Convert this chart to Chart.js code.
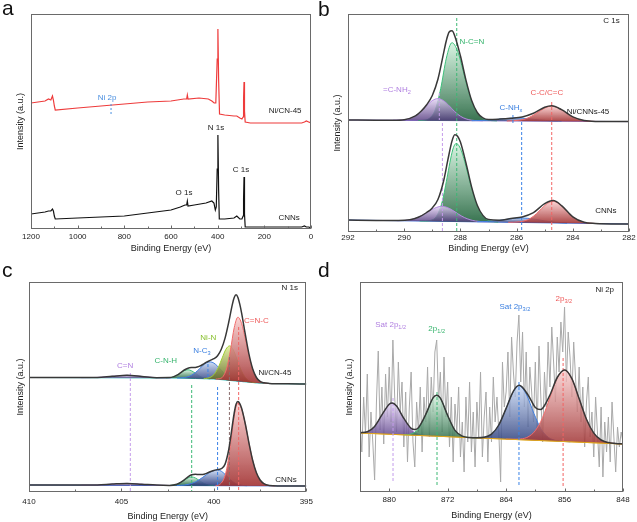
<!DOCTYPE html>
<html><head><meta charset="utf-8">
<script src="https://cdn.jsdelivr.net/npm/chart.js@4.4.1/dist/chart.umd.min.js"></script>
<style>
html,body{margin:0;padding:0;background:#fff;}
#wrap{position:relative;width:637px;height:522px;overflow:hidden;}
canvas{position:absolute;}
</style></head>
<body><div id="wrap">
<canvas id="ca" width="318" height="260" style="left:0;top:0"></canvas>
<canvas id="cb" width="319" height="260" style="left:318px;top:0"></canvas>
<canvas id="cc" width="318" height="262" style="left:0;top:260px"></canvas>
<canvas id="cd" width="319" height="262" style="left:318px;top:260px"></canvas>
</div>
<script>
// ---------- Panel a : survey ----------
const aTicks = [1200, 1000, 800, 600, 400, 200, 0];
const aMinor = [1100, 900, 700, 500, 300, 100];
const aRedE = [1200,1170,1140,1125,1115,1108,1104,1100,1096,1000,900,800,700,600,545,533,530,527,480,440,425,415,408,402,399,396,392,370,330,318,305,296,291,289,287,285,282,260,150,40,28,20,10,0];
const aRedI = [126,127,128,130,129,133,129,123,119,121,123,125,127,128,130,130,134,130,131,130,128,126,126,170,200,150,115,114,113,113,111,110,112,130,147,118,107,106,106,106,107,108,107,106];
const aBlkE = [1200,1170,1140,1125,1115,1108,1104,1100,1096,1000,900,800,700,600,560,540,533,530,527,500,450,425,416,410,406,402,399,396,393,370,330,318,305,296,291,289,287,285,282,260,150,40,28,20,10,0];
const aBlkI = [15,16,17,18,18,20,18,13,10,11,12,13,16,19,22,24,24,28,23,24,26,28,26,19,22,60,94,40,10,10,11,13,10,10,13,30,52,15,2,2,2,2,3,2,2,1];
const aMarks = [{x: 857, y1: 125, y2: 113}];

// ---------- Panel b : C 1s ----------
const bTicks = [292, 290, 288, 286, 284, 282];
const bMinor = [291, 289, 287, 285, 283];
const bUpBaseE = [292, 282], bUpBaseI = [112.0, 110.4];
const bUpPurE = [290.4,290.2,290.0,289.8,289.6,289.4,289.2,289.0,288.8,288.6,288.4,288.2,288.0,287.8,287.6,287.4,287.2];
const bUpPurI = [111.8,111.9,112.3,113.5,116.1,120.6,126.3,131.4,133.4,131.3,126.2,120.3,115.8,113.1,111.8,111.4,111.1];
const bUpGrnE = [289.5,289.3,289.1,288.9,288.7,288.5,288.3,288.1,287.9,287.7,287.5,287.3,287.1,286.9,286.7];
const bUpGrnI = [111.5,111.8,113.7,121.9,143.5,173.9,189.3,180.9,160.9,139.3,123.9,115.8,112.4,111.4,111.1];
const bUpNhxE = [287.6,287.2,286.8,286.4,286.0,285.6,285.2,284.8,284.4];
const bUpNhxI = [111.3,111.6,112.3,113.4,114.0,113.3,112.1,111.2,110.8];
const bUpRedE = [286.35,286.15,285.95,285.75,285.55,285.35,285.15,284.95,284.75,284.55,284.35,284.15,283.95,283.75,283.55,283.35,283.15];
const bUpRedI = [111.0,111.2,111.7,112.6,114.6,117.8,121.4,124.6,125.8,124.5,121.3,117.6,114.3,112.3,111.3,110.7,110.5];
const bUpEnvE = [292,291,290.4,290.0,289.6,289.4,289.2,289.0,288.8,288.6,288.5,288.4,288.3,288.2,288.0,287.8,287.6,287.4,287.2,287.0,286.6,286.2,285.8,285.4,285.0,284.75,284.4,284.0,283.6,283.2,282];
const bUpEnvI = [112.0,111.8,111.8,112.3,116.1,120.7,127.2,136.5,152.8,178.6,191.5,200.0,201.2,196.1,176.2,151.6,131.4,119.5,114.1,112.4,112.9,113.8,115.1,118.7,124.7,126.2,122.3,115.1,111.5,110.6,110.4];
const bLoBaseE = [292, 282], bLoBaseI = [12, 8];
const bLoPurE = [290.26,290.06,289.86,289.66,289.46,289.26,289.06,288.86,288.66,288.46,288.26,288.06,287.86,287.66,287.46,287.26,287.06];
const bLoPurI = [11.3,11.5,11.9,13.1,15.2,18.2,21.7,24.5,25.7,24.4,21.4,17.7,14.5,12.3,11.0,10.4,10.1];
const bLoGrnE = [289.45,289.25,289.05,288.85,288.65,288.45,288.35,288.25,288.15,288.05,287.95,287.85,287.65,287.45,287.25,287.05,286.85,286.65];
const bLoGrnI = [11.0,11.0,11.7,15.8,30.1,57.9,72.9,84.3,88.5,86.2,80.0,70.7,48.8,29.7,18.0,12.5,10.6,10.0];
const bLoNhxE = [287.4,287.0,286.6,286.2,285.8,285.4,285.0,284.6,284.2];
const bLoNhxI = [10.3,10.6,11.7,13.3,14.0,13.0,11.1,9.6,9.0];
const bLoRedE = [286.3,286.1,285.9,285.7,285.5,285.3,285.1,284.9,284.7,284.5,284.3,284.1,283.9,283.7,283.5,283.3,283.1];
const bLoRedI = [9.7,9.8,10.2,11.3,13.8,18.1,23.7,28.7,30.6,28.5,23.4,17.6,13.2,10.5,9.2,8.7,8.4];
const bLoEnvE = [292,291,290.2,289.8,289.5,289.2,289.0,288.8,288.6,288.45,288.3,288.2,288.1,288.0,287.8,287.6,287.4,287.2,287.0,286.6,286.2,285.8,285.4,285.0,284.7,284.4,284.0,283.6,283.2,282];
const bLoEnvI = [12.0,11.6,11.4,12.2,14.7,19.5,24.1,32.5,50.8,71.6,90.9,97.2,95.8,89.9,68.8,44.9,26.8,16.6,12.4,11.8,13.5,15.1,19.4,28.3,31.4,26.4,15.2,9.7,8.6,8.0];
const bMarks = [
  {x: 288.75, y1: 139, y2: 112, k: 'p'}, {x: 288.64, y1: 109, y2: 0, k: 'p'},
  {x: 288.13, y1: 214, y2: 0, k: 'g'}, {x: 286.13, y1: 117, y2: 107, k: 'b'},
  {x: 285.82, y1: 110, y2: 0, k: 'b'}, {x: 284.75, y1: 130, y2: 0, k: 'r'}];

// ---------- Panel c : N 1s ----------
const cTicks = [410, 405, 400, 395];
const cMinor = [407.5, 402.5, 397.5];
const cUpBaseE = [410,402,401,400,399.5,399,398.5,398,397.5,397,395];
const cUpBaseI = [114.5,114,113.5,113,112.2,111.3,110.5,109.6,108.8,108.5,108];
const cUpCnE = [407.2,406.3,405.5,404.7,403.9,403.1,402.3];
const cUpCnI = [114.3,114.6,115.7,116.7,115.6,114.3,114.0];
const cUpCnhE = [402.6,402.4,402.2,402.0,401.8,401.6,401.4,401.2,401.0,400.8,400.6,400.4,400.2];
const cUpCnhI = [114.1,114.4,115.1,116.8,119.1,121.3,122.2,121.1,118.7,116.2,114.4,113.6,113.1];
const cUpNc3E = [402.0,401.8,401.6,401.4,401.2,401.0,400.8,400.6,400.4,400.2,400.0,399.8,399.6,399.4,399.2,399.0,398.8,398.6,398.4];
const cUpNc3I = [114.0,114.1,114.5,115.3,116.9,119.4,122.8,126.4,129.1,130.1,128.9,125.8,121.8,117.9,114.9,112.9,111.7,110.8,110.3];
const cUpNinE = [400.55,400.35,400.15,399.95,399.75,399.55,399.35,399.15,398.95,398.75,398.55,398.35,398.15,397.95,397.75];
const cUpNinI = [113.3,113.8,115.1,118.5,125.0,134.1,142.7,146.1,142.0,132.8,122.9,115.8,111.8,110.1,109.2];
const cUpRedE = [399.9,399.7,399.5,399.3,399.1,398.9,398.7,398.5,398.3,398.1,397.9,397.7,397.5,397.3,397.1];
const cUpRedI = [112.9,113.3,115.6,124.1,142.2,164.4,174.8,168.5,153.2,136.1,122.6,114.5,110.6,109.2,108.6];
const cUpEnvE = [410,407,406.3,405.5,404.7,403.9,403.1,402.4,402.2,402.0,401.8,401.6,401.4,401.2,401.0,400.8,400.6,400.4,400.2,400.0,399.8,399.6,399.4,399.2,399.0,398.9,398.8,398.7,398.6,398.5,398.3,398.1,397.9,397.7,397.5,397.3,397.0,396.0,395.0];
const cUpEnvI = [114.5,114.4,114.6,115.7,116.7,115.6,114.3,114.4,115.1,116.8,119.3,122.0,123.8,124.4,124.6,125.6,127.5,129.9,131.6,133.3,136.2,142.7,153.6,169.5,187.7,194.4,197.2,194.6,187.8,178.9,157.6,137.6,123.0,114.5,110.6,109.2,108.6,108.2,108.0];
const cLoBaseE = [410, 395], cLoBaseI = [7, 6];
const cLoCnE = [407.2,406.3,405.5,404.7,403.9,403.1,402.3];
const cLoCnI = [6.8,7.0,7.9,8.6,7.8,6.8,6.5];
const cLoCnhE = [402.4,402.2,402.0,401.8,401.6,401.4,401.2,401.0,400.8,400.6,400.4,400.2,400.0];
const cLoCnhI = [6.5,6.9,7.7,9.3,11.7,14.1,15.0,14.0,11.6,9.2,7.6,6.8,6.4];
const cLoNc3E = [402.0,401.8,401.6,401.4,401.2,401.0,400.8,400.6,400.4,400.2,400.0,399.8,399.6,399.4,399.2,399.0,398.8,398.6,398.4,398.2];
const cLoNc3I = [6.5,6.7,7.0,7.6,8.6,10.1,12.2,14.7,17.4,19.8,21.4,22.0,20.8,17.7,13.9,10.7,8.3,7.1,6.5,6.3];
const cLoRedE = [399.9,399.7,399.5,399.4,399.3,399.2,399.1,399.0,398.9,398.8,398.7,398.5,398.3,398.1,397.9,397.7,397.5,397.3,397.1,396.9,396.7];
const cLoRedI = [6.5,7.4,11.5,16.2,23.7,34.4,47.7,62.4,75.9,85.6,89.0,83.1,67.8,48.7,31.5,19.2,12.0,8.4,6.8,6.3,6.1];
const cLoEnvE = [410,407,406.3,405.5,404.7,403.9,403.1,402.4,402.0,401.8,401.6,401.4,401.2,401.0,400.8,400.6,400.4,400.2,400.0,399.8,399.6,399.4,399.2,399.1,399.0,398.9,398.8,398.7,398.6,398.5,398.3,398.1,397.9,397.7,397.5,397.3,397.0,396.5,395.0];
const cLoEnvI = [7.0,6.9,7.0,7.9,8.6,7.8,6.9,6.6,7.8,9.6,12.2,15.2,17.2,17.7,17.4,17.5,18.6,20.2,21.5,22.4,23.3,27.6,42.0,53.6,66.8,79.0,87.7,90.5,88.4,83.7,68.0,48.7,31.5,19.2,12.0,8.4,6.6,6.1,6.0];
const cMarks = [
  {x: 404.52, y1: 119, y2: 0, k: 'p'}, {x: 401.2, y1: 107, y2: 0, k: 'g'},
  {x: 400.32, y1: 128, y2: 114, k: 'b'}, {x: 399.8, y1: 105, y2: 0, k: 'b'},
  {x: 399.16, y1: 135, y2: 0, k: 'n'}, {x: 398.66, y1: 165, y2: 0, k: 'r'}];

// ---------- Panel d : Ni 2p ----------
const dTicks = [880, 872, 864, 856, 848];
const dMinor = [876, 868, 860, 852];
const dRawE = [
 884,883.75,883.5,883.25,883,882.75,882.5,882.25,
 882,881.75,881.5,881.25,881,880.75,880.5,880.25,
 880,879.75,879.5,879.25,879,878.75,878.5,878.25,
 878,877.75,877.5,877.25,877,876.75,876.5,876.25,
 876,875.75,875.5,875.25,875,874.75,874.5,874.25,
 874,873.75,873.5,873.25,873,872.75,872.5,872.25,
 872,871.75,871.5,871.25,871,870.75,870.5,870.25,
 870,869.75,869.5,869.25,869,868.75,868.5,868.25,
 868,867.75,867.5,867.25,867,866.75,866.5,866.25,
 866,865.75,865.5,865.25,865,864.75,864.5,864.25,
 864,863.75,863.5,863.25,863,862.75,862.5,862.25,
 862,861.75,861.5,861.25,861,860.75,860.5,860.25,
 860,859.75,859.5,859.25,859,858.75,858.5,858.25,
 858,857.75,857.5,857.25,857,856.75,856.5,856.25,
 856,855.75,855.5,855.25,855,854.75,854.5,854.25,
 854,853.75,853.5,853.25,853,852.75,852.5,852.25,
 852,851.75,851.5,851.25,851,850.75,850.5,850.25,
 850,849.75,849.5,849.25,849,848.75,848.5,848.25,
 848];
const dRawI = [
 72,40,95,58,118,35,80,50,
 12,90,141,62,105,48,118,75,
 125,70,152,95,60,130,80,110,
 45,100,30,85,120,50,25,90,
 60,105,40,95,70,125,55,115,
 80,140,152,90,120,60,135,75,
 110,45,95,30,88,60,105,35,
 70,20,95,50,110,40,80,25,
 90,55,120,35,75,100,30,85,
 50,115,70,95,60,10,130,85,
 100,140,75,155,120,95,150,177,
 110,160,85,140,65,125,100,70,
 130,60,146,95,50,120,85,150,
 105,165,130,90,155,120,170,140,
 185,110,160,135,95,150,115,80,
 125,70,105,45,90,115,55,80,
 35,95,60,25,85,15,70,40,
 75,30,90,55,20,65,45,60,
 50];
const dBaseE = [884, 848], dBaseI = [59, 48];
const dSat12E = [884,883,882,881,880,879.6,879,878,877,876,875,874];
const dSat12I = [59.2,60.3,65.6,77.1,87.8,89.0,86.0,73.5,62.5,57.8,56.5,56.0];
const dP12E = [878,877.5,877,876,875,874,873.5,873,872,871,870,869,868];
const dP12I = [57.2,57.4,58.0,63.1,77.4,94.1,96.8,93.8,76.5,61.6,55.8,54.5,54.1];
const dSat32E = [869.2,868.2,867.2,866.2,865.2,864.2,863.2,862.2,861.2,860.2,859.2,858.2,857.2,856.2,855.2];
const dSat32I = [54.4,54.3,54.6,57.0,64.6,79.8,97.8,106.0,97.2,78.6,62.7,54.5,51.5,50.6,50.2];
const dP32E = [864,863,862,861,860,859,858,857,856,855,854,853,852,851,850,849,848];
const dP32I = [52.9,52.8,53.1,55.1,61.4,74.6,94.5,114.0,122.0,113.3,93.2,72.7,58.9,52.0,49.4,48.5,48.1];
const dEnvE = [884,883,882,881,880,879.6,879,878,877,876.5,876,875,874,873.5,873,872,871,870,869,868,867,866,865,864,863,862.2,861,860,859.3,859,858,857,856,855,854,853,852,851,850,849,848];
const dEnvI = [59.2,60.3,65.6,77.1,87.8,89.0,86.0,73.6,63.6,62.4,64.3,77.6,94.1,96.8,93.8,76.5,61.6,55.8,54.5,54.3,54.8,57.9,67.0,83.6,100.9,106.7,97.0,84.6,82.4,83.7,97.0,114.5,122.0,113.3,93.2,72.7,58.9,52.0,49.4,48.5,48.0];
const dMarks = [
  {x: 879.48, y1: 94, y2: 10, k: 'p'}, {x: 873.46, y1: 100, y2: 7, k: 'g'},
  {x: 862.24, y1: 110, y2: 5, k: 'b'}, {x: 856.2, y1: 134, y2: 5, k: 'r'}];

// ---------- styles ----------
const FONT = '"Liberation Sans", Arial, Helvetica, sans-serif';
Chart.defaults.font.family = FONT;
Chart.defaults.color = '#222';
const COL = {
  p: {line: '#b48ae0', top: 'rgba(228,212,246,0.8)', bot: 'rgba(80,54,124,0.82)', dash: '#c49ceb', text: '#b07fe0'},
  g: {line: '#3cc07a', top: 'rgba(210,243,222,0.86)', bot: 'rgba(40,104,66,0.92)', dash: '#3cb874', text: '#35b46c'},
  r: {line: '#f06a6a', top: 'rgba(250,206,206,0.88)', bot: 'rgba(162,50,50,0.9)', dash: '#f26464', text: '#ee5a5a'},
  b: {line: '#3f7fe0', top: 'rgba(200,218,246,0.88)', bot: 'rgba(40,56,122,0.9)', dash: '#3a82e6', text: '#3a7fe0'},
  n: {line: '#9ccc32', top: 'rgba(224,238,150,0.88)', bot: 'rgba(92,98,30,0.9)', dash: '#8a6c6c', text: '#86bf2a'}
};
const ENV = '#383838';

const P = (E, I) => E.map((e, i) => ({x: e, y: I[i]}));
function grad(top, bot) {
  return (ctx) => {
    const ch = ctx.chart;
    if (!ch.chartArea || !ctx.dataset) return bot;
    const ys = ctx.dataset.data.map(p => p.y);
    const y0 = ch.scales.y.getPixelForValue(Math.max(...ys));
    const y1 = ch.scales.y.getPixelForValue(Math.min(...ys));
    const g = ch.ctx.createLinearGradient(0, y0, 0, Math.max(y1, y0 + 1));
    g.addColorStop(0, top); g.addColorStop(1, bot);
    return g;
  };
}
function lineDS(E, I, color, w, smooth) {
  return {data: P(E, I), borderColor: color, borderWidth: w, fill: false,
    cubicInterpolationMode: smooth ? 'monotone' : 'default', tension: 0, pointRadius: 0};
}
function compDS(E, I, k, target, alphaTop, alphaBot) {
  const c = COL[k];
  return {data: P(E, I), borderColor: c.line, borderWidth: 1, fill: target,
    backgroundColor: grad(alphaTop || c.top, alphaBot || c.bot),
    cubicInterpolationMode: 'monotone', pointRadius: 0};
}
function dashDS(m, color, dash) {
  return {data: [{x: m.x, y: m.y1}, {x: m.x, y: m.y2}], borderColor: color, borderWidth: 1,
    borderDash: dash || [3, 2], fill: false, pointRadius: 0};
}

function decor(cfg) {
  return {
    id: 'decor',
    afterDatasetsDraw(chart) {
      const {ctx, scales: {x, y}} = chart;
      ctx.save();
      ctx.textBaseline = 'middle'; ctx.textAlign = 'left';
      for (const L of cfg.labels) {
        const size = L.size || 8;
        const px = x.getPixelForValue(L.x), py = y.getPixelForValue(L.y);
        const main = size + 'px ' + FONT, sub = (size * 0.7) + 'px ' + FONT;
        ctx.font = main; const w1 = ctx.measureText(L.t).width;
        let w2 = 0;
        if (L.s) { ctx.font = sub; w2 = ctx.measureText(L.s).width; }
        const x0 = px - (w1 + w2) / 2;
        ctx.fillStyle = L.c || '#222';
        ctx.font = main; ctx.fillText(L.t, x0, py);
        if (L.s) { ctx.font = sub; ctx.fillText(L.s, x0 + w1, py + size * 0.28); }
      }
      ctx.restore();
    },
    afterDraw(chart) {
      const {ctx, chartArea: a, scales: {x}} = chart;
      ctx.save();
      ctx.strokeStyle = '#6a6a6a'; ctx.lineWidth = 1;
      const L = Math.round(a.left) + 0.5, T = Math.round(a.top) + 0.5;
      const R = Math.round(a.right) - 0.5, B = Math.round(a.bottom) - 0.5;
      ctx.strokeRect(L, T, R - L, B - T);
      ctx.beginPath();
      for (const v of cfg.ticks) { const px = Math.round(x.getPixelForValue(v)) + 0.5; ctx.moveTo(px, B); ctx.lineTo(px, B - 3); }
      for (const v of cfg.minor) { const px = Math.round(x.getPixelForValue(v)) + 0.5; ctx.moveTo(px, B); ctx.lineTo(px, B - 2); }
      ctx.stroke();
      ctx.fillStyle = '#111'; ctx.font = '21px ' + FONT; ctx.textBaseline = 'alphabetic'; ctx.textAlign = 'left';
      ctx.fillText(cfg.letter, cfg.lx, cfg.ly);
      ctx.restore();
    }
  };
}

function makeChart(id, cfg) {
  const datasets = cfg.datasets.map((d, i) => Object.assign({order: -i}, d));
  return new Chart(document.getElementById(id), {
    type: 'line',
    data: {datasets},
    options: {
      responsive: false, animation: false, devicePixelRatio: 1, events: [],
      layout: {padding: cfg.pad},
      plugins: {legend: {display: false}, tooltip: {enabled: false}, colors: {enabled: false}},
      elements: {point: {radius: 0}, line: {borderWidth: 1}},
      scales: {
        x: {
          type: 'linear', reverse: true, min: cfg.xmin, max: cfg.xmax,
          afterFit: (s) => { s.height = cfg.xh; },
          afterBuildTicks: (s) => { s.ticks = cfg.ticks.map(v => ({value: v})); },
          ticks: {padding: cfg.tp, color: '#222', font: {size: 8}, autoSkip: false, maxRotation: 0, minRotation: 0,
                  callback: (v) => String(v)},
          grid: {display: false, drawTicks: false}, border: {display: false},
          title: {display: true, text: 'Binding Energy (eV)', color: '#222', font: {size: 9}, padding: {top: 0, bottom: cfg.tb}}
        },
        y: {
          type: 'linear', min: 0, max: cfg.ymax,
          afterFit: (s) => { s.width = cfg.yw; },
          ticks: {display: false}, grid: {display: false, drawTicks: false}, border: {display: false},
          title: {display: true, text: 'Intensity (a.u.)', color: '#222', font: {size: 9}, padding: {top: 0, bottom: 0}}
        }
      }
    },
    plugins: [decor(cfg)]
  });
}

// ---------- panel a ----------
makeChart('ca', {
  pad: {left: 15.6, top: 14, right: 7, bottom: 5}, yw: 15.4, xh: 26, tb: 1, tp: 3,
  xmin: 0, xmax: 1200, ymax: 215, ticks: aTicks, minor: aMinor, letter: 'a', lx: 2, ly: 15,
  datasets: [
    lineDS(aRedE, aRedI, '#ee3b3b', 1.2, false),
    lineDS(aBlkE, aBlkI, '#111111', 1.2, false),
    dashDS(aMarks[0], '#4a8fe0', [2, 2])
  ],
  labels: [
    {x: 874, y: 131, t: 'Ni 2p', c: '#4a8fe0'},
    {x: 407, y: 101, t: 'N 1s'}, {x: 300, y: 59, t: 'C 1s'}, {x: 544, y: 36, t: 'O 1s'},
    {x: 111, y: 118, t: 'Ni/CN-45'}, {x: 94, y: 11, t: 'CNNs'}
  ]
});

// ---------- panel b ----------
makeChart('cb', {
  pad: {left: 14.6, top: 14, right: 8, bottom: 4.6}, yw: 15.4, xh: 23.4, tb: 1, tp: 1,
  xmin: 282, xmax: 292, ymax: 218, ticks: bTicks, minor: bMinor, letter: 'b', lx: 0, ly: 16,
  datasets: [
    {data: []},
    lineDS(bUpBaseE, bUpBaseI, '#7c64c4', 1, false),
    compDS(bUpGrnE, bUpGrnI, 'g', 1),
    compDS(bUpPurE, bUpPurI, 'p', 1),
    compDS(bUpNhxE, bUpNhxI, 'b', 1),
    compDS(bUpRedE, bUpRedI, 'r', 1),
    lineDS(bLoBaseE, bLoBaseI, '#3a66d0', 1, false),
    compDS(bLoGrnE, bLoGrnI, 'g', 6),
    compDS(bLoPurE, bLoPurI, 'p', 6),
    compDS(bLoNhxE, bLoNhxI, 'b', 6),
    compDS(bLoRedE, bLoRedI, 'r', 6),
    ...bMarks.map(m => dashDS(m, COL[m.k].dash)),
    lineDS(bUpEnvE, bUpEnvI, ENV, 1.5, true),
    lineDS(bLoEnvE, bLoEnvI, ENV, 1.5, true)
  ],
  labels: [
    {x: 282.62, y: 211, t: 'C 1s'},
    {x: 287.59, y: 190, t: 'N-C=N', c: COL.g.text},
    {x: 290.26, y: 142, t: '=C-NH', s: '2', c: COL.p.text},
    {x: 286.2, y: 124, t: 'C-NH', s: 'x', c: COL.b.text},
    {x: 284.92, y: 139, t: 'C-C/C=C', c: COL.r.text},
    {x: 283.46, y: 120, t: 'Ni/CNNs-45'},
    {x: 282.82, y: 21, t: 'CNNs'}
  ]
});

// ---------- panel c ----------
makeChart('cc', {
  pad: {left: 15.6, top: 22, right: 10, bottom: 0}, yw: 13.4, xh: 30, tb: 0, tp: 5,
  xmin: 395, xmax: 410, ymax: 210, ticks: cTicks, minor: cMinor, letter: 'c', lx: 2, ly: 17,
  datasets: [
    {data: []},
    lineDS(cUpBaseE, cUpBaseI, '#22b3b0', 1, false),
    compDS(cUpCnE, cUpCnI, 'p', 1),
    compDS(cUpCnhE, cUpCnhI, 'g', 1),
    compDS(cUpNc3E, cUpNc3I, 'b', 1),
    compDS(cUpNinE, cUpNinI, 'n', 1),
    compDS(cUpRedE, cUpRedI, 'r', 1),
    lineDS(cLoBaseE, cLoBaseI, '#3a66d0', 1, false),
    compDS(cLoCnE, cLoCnI, 'p', 7),
    compDS(cLoCnhE, cLoCnhI, 'g', 7),
    compDS(cLoNc3E, cLoNc3I, 'b', 7),
    compDS(cLoRedE, cLoRedI, 'r', 7),
    ...cMarks.map(m => dashDS(m, COL[m.k].dash)),
    lineDS(cUpEnvE, cUpEnvI, ENV, 1.5, true),
    lineDS(cLoEnvE, cLoEnvI, ENV, 1.5, true)
  ],
  labels: [
    {x: 395.9, y: 204, t: 'N 1s'},
    {x: 397.7, y: 171, t: 'C=N-C', c: COL.r.text},
    {x: 400.3, y: 154, t: 'Ni-N', c: COL.n.text},
    {x: 400.65, y: 141, t: 'N-C', s: '3', c: COL.b.text},
    {x: 402.6, y: 131, t: 'C-N-H', c: COL.g.text},
    {x: 404.8, y: 126, t: 'C=N', c: COL.p.text},
    {x: 396.7, y: 119, t: 'Ni/CN-45'},
    {x: 396.1, y: 12, t: 'CNNs'}
  ]
});

// ---------- panel d ----------
makeChart('cd', {
  pad: {left: 26.6, top: 22, right: 14, bottom: 0.6}, yw: 15.4, xh: 29.4, tb: 0, tp: 2.5,
  xmin: 848, xmax: 884, ymax: 210, ticks: dTicks, minor: dMinor, letter: 'd', lx: 0, ly: 17,
  datasets: [
    lineDS(dRawE, dRawI, '#a9a9a9', 1, false),
    lineDS(dBaseE, dBaseI, '#e0a620', 1, false),
    compDS(dSat12E, dSat12I, 'p', 1, 'rgba(228,212,246,0.78)', 'rgba(96,70,140,0.85)'),
    compDS(dP12E, dP12I, 'g', 1, 'rgba(210,243,222,0.78)', 'rgba(50,112,76,0.85)'),
    compDS(dSat32E, dSat32I, 'b', 1, 'rgba(196,214,244,0.8)', 'rgba(44,62,124,0.86)'),
    compDS(dP32E, dP32I, 'r', 1, 'rgba(250,204,204,0.8)', 'rgba(160,52,52,0.86)'),
    lineDS(dBaseE, dBaseI, '#e0a620', 1.2, false),
    ...dMarks.map(m => dashDS(m, COL[m.k].dash)),
    lineDS(dEnvE, dEnvI, ENV, 1.5, true)
  ],
  labels: [
    {x: 850.5, y: 202, t: 'Ni 2p'},
    {x: 856.1, y: 193, t: '2p', s: '3/2', c: COL.r.text},
    {x: 862.8, y: 185, t: 'Sat 2p', s: '3/2', c: COL.b.text},
    {x: 873.5, y: 163, t: '2p', s: '1/2', c: COL.g.text},
    {x: 879.8, y: 167, t: 'Sat 2p', s: '1/2', c: COL.p.text}
  ]
});
</script>
</body></html>
